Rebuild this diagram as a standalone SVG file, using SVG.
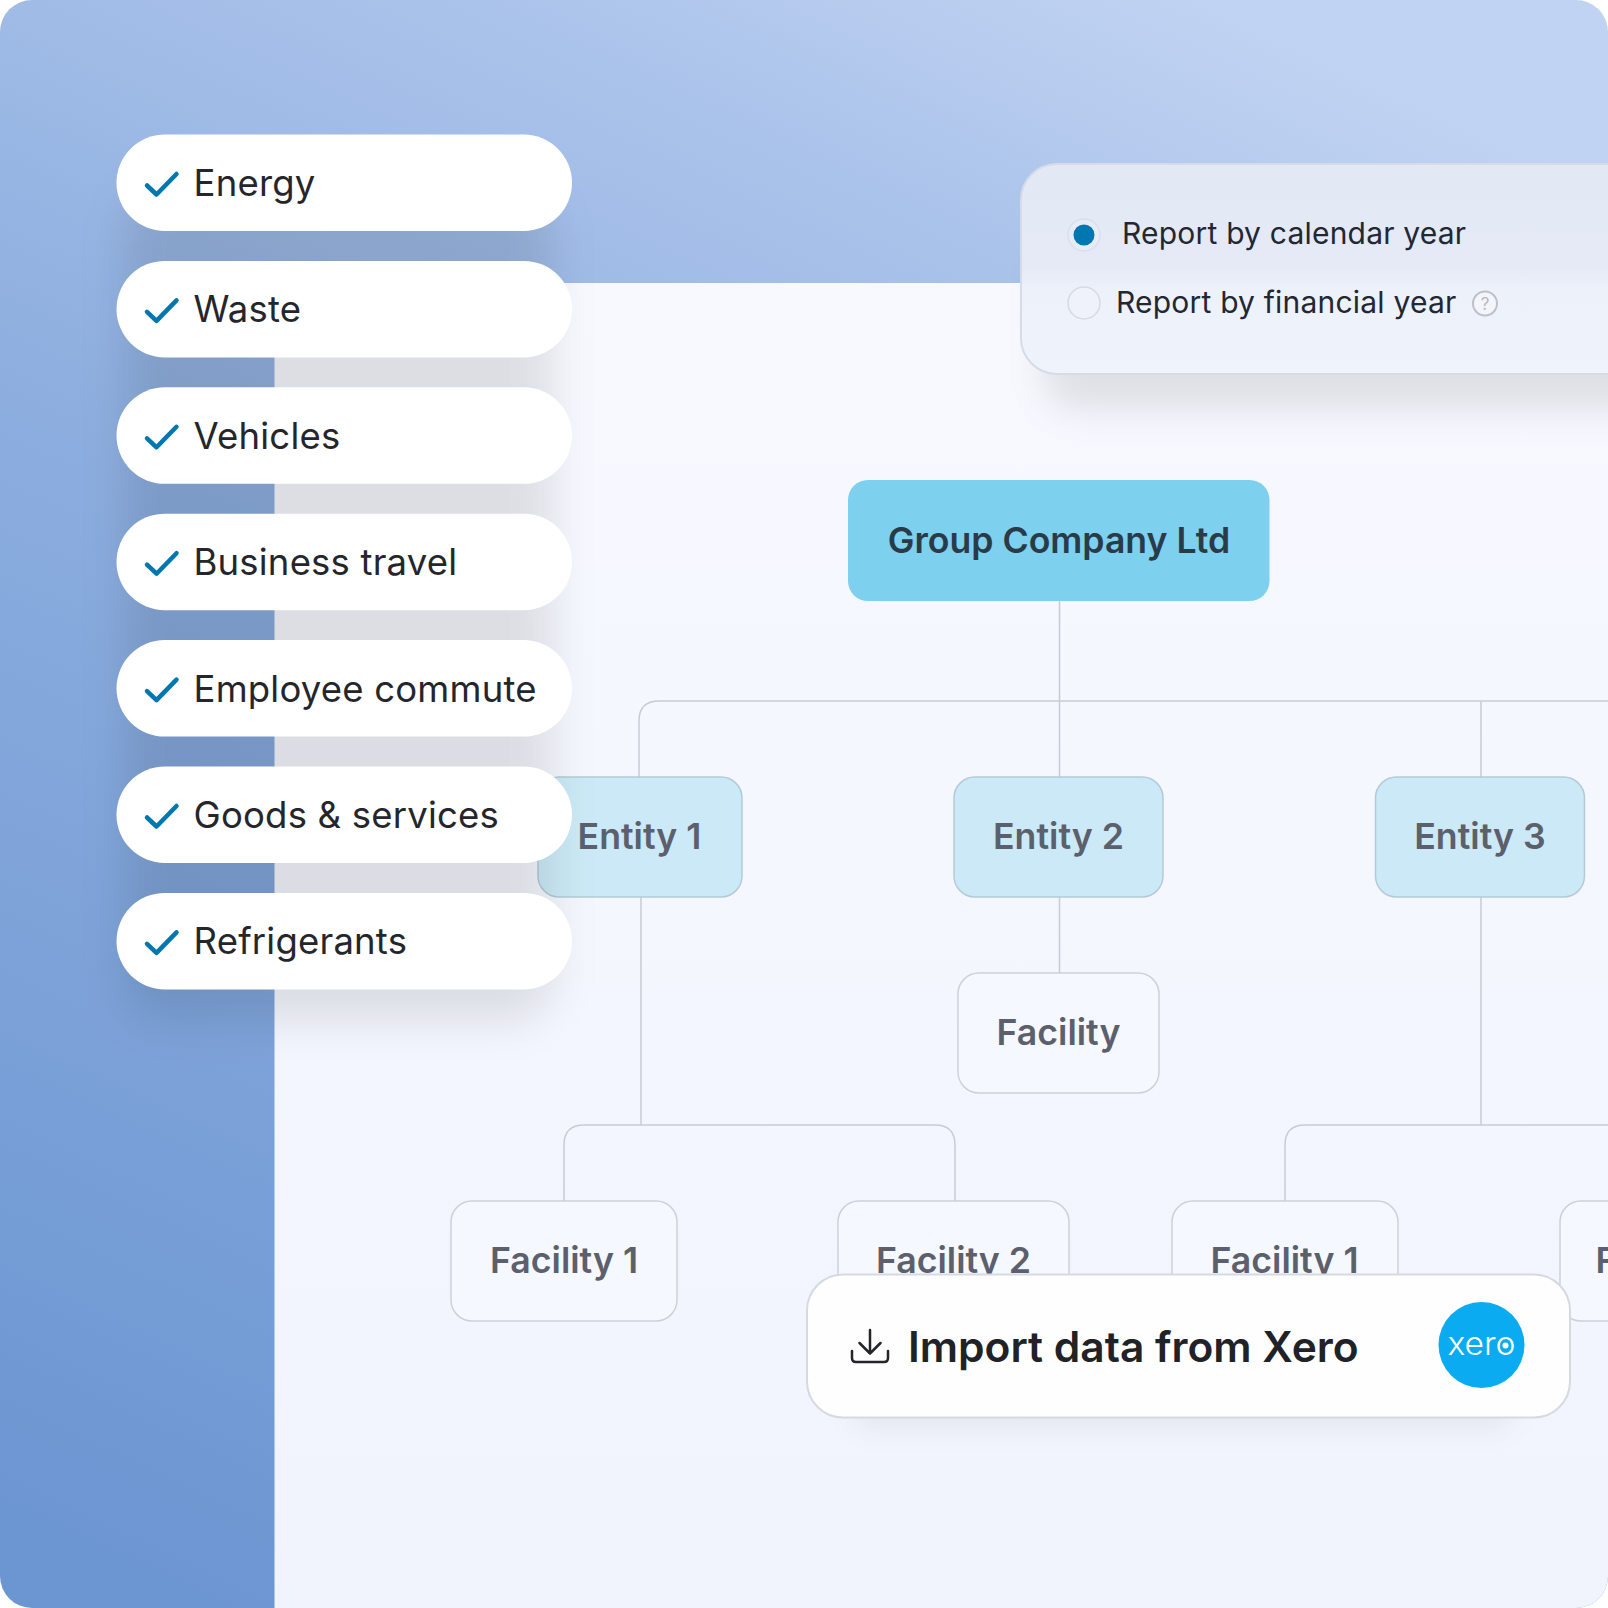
<svg xmlns="http://www.w3.org/2000/svg" width="1608" height="1608" viewBox="0 0 1608 1608">
<defs>
<linearGradient id="bg" gradientUnits="userSpaceOnUse" x1="200" y1="1608" x2="1000" y2="-100">
<stop offset="0" stop-color="#6C96D2"/><stop offset="0.55" stop-color="#8DAEDF"/><stop offset="0.82" stop-color="#A9C2EA"/><stop offset="1" stop-color="#C1D3F2"/>
</linearGradient>
<linearGradient id="panel" x1="0" y1="0" x2="0" y2="1"><stop offset="0" stop-color="#F7F9FF"/><stop offset="1" stop-color="#F1F4FD"/></linearGradient>
<linearGradient id="glass" gradientUnits="userSpaceOnUse" x1="0" y1="163" x2="0" y2="374">
<stop offset="0" stop-color="#E2E8F4"/><stop offset="0.5" stop-color="#E5EAF6"/><stop offset="0.6" stop-color="#EDF1FA"/><stop offset="1" stop-color="#EFF3FC"/>
</linearGradient>
<clipPath id="page"><rect width="1608" height="1608" rx="32"/></clipPath>
<filter id="blurL" filterUnits="userSpaceOnUse" x="0" y="0" width="1800" height="1608"><feGaussianBlur stdDeviation="22"/></filter>
<filter id="blurM" filterUnits="userSpaceOnUse" x="0" y="0" width="1800" height="1608"><feGaussianBlur stdDeviation="18"/></filter>
<filter id="blurS" filterUnits="userSpaceOnUse" x="0" y="0" width="1800" height="1608"><feGaussianBlur stdDeviation="14"/></filter>
<path id="check" d="M147 185.500 L156.500 194.500 L176.500 174" fill="none" stroke="#0077AF" stroke-width="4.500" stroke-linecap="round" stroke-linejoin="round"/>
<rect id="pillShape" x="116.500" y="134.500" width="455.500" height="96.500" rx="48.250"/>
</defs>
<style>
text{font-family:"Inter","Liberation Sans",sans-serif}
.pill use.s{fill:#fff}
.pill text{font-size:36.500px;fill:#25262C;font-weight:400;letter-spacing:.2px}
.box{stroke-width:1.500}
.ent{fill:#CBE9F6;stroke:#B5CAD8}
.fac{fill:#F6F8FF;stroke:#CDD1DB}
.lbl{font-size:35.700px;font-weight:600;fill:#5B606C;text-anchor:middle}
.conn{fill:none;stroke:#C7CBD3;stroke-width:1.500}
.rep{font-size:30px;fill:#222733;letter-spacing:.2px}
</style>
<g clip-path="url(#page)">
<rect id="backdrop" width="1608" height="1608" fill="url(#bg)"/>
<rect id="panel-bg" x="274.500" y="283" width="1334" height="1326" fill="url(#panel)"/>
<g id="connectors" class="conn">
<path d="M1059.500 601V777"/>
<path d="M1608 701H659Q639 701 639 721V777"/>
<path d="M1481 701V777"/>
<path d="M641 897V1125"/>
<path d="M955 1201V1145Q955 1125 935 1125H584Q564 1125 564 1145V1201"/>
<path d="M1059.500 897V973"/>
<path d="M1481 897V1125"/>
<path d="M1608 1125H1305Q1285 1125 1285 1145V1201"/>
</g>
<g id="group-company"><rect x="848" y="480" width="421.500" height="121" rx="20" fill="#7DD0EE"/><text x="1059" y="553" text-anchor="middle" font-size="35.600" font-weight="600" fill="#2A3B48">Group Company Ltd</text></g>
<g id="entity-1"><rect class="box ent" x="538" y="777" width="204" height="120" rx="21"/><text class="lbl" x="639.500" y="849">Entity 1</text></g>
<g id="entity-2"><rect class="box ent" x="954" y="777" width="209" height="120" rx="21"/><text class="lbl" x="1058.500" y="849">Entity 2</text></g>
<g id="entity-3"><rect class="box ent" x="1375.500" y="777" width="209" height="120" rx="21"/><text class="lbl" x="1480" y="849">Entity 3</text></g>
<g id="facility"><rect class="box fac" x="958" y="973" width="201" height="120" rx="21"/><text class="lbl" x="1058.500" y="1045">Facility</text></g>
<g id="facility-1a"><rect class="box fac" x="451" y="1201" width="226" height="120" rx="21"/><text class="lbl" x="564" y="1273">Facility 1</text></g>
<g id="facility-2a"><rect class="box fac" x="838" y="1201" width="231" height="120" rx="21"/><text class="lbl" x="953.500" y="1273">Facility 2</text></g>
<g id="facility-1b"><rect class="box fac" x="1172" y="1201" width="226" height="120" rx="21"/><text class="lbl" x="1284.500" y="1273">Facility 1</text></g>
<g id="facility-2b"><rect class="box fac" x="1560" y="1201" width="226" height="120" rx="21"/><text class="lbl" x="1673" y="1273">Facility 2</text></g>
<g id="pill-shadows" fill="#1c1c1c" fill-opacity="0.105" filter="url(#blurL)">
<rect x="124" y="190" width="428" height="830" rx="40"/>
</g>
<g id="pill-energy" class="pill"><use href="#pillShape" class="s"/><use href="#check"/><text x="193.500" y="196">Energy</text></g>
<g id="pill-waste" class="pill" transform="translate(0 126.400)"><use href="#pillShape" class="s"/><use href="#check"/><text x="193.500" y="196">Waste</text></g>
<g id="pill-vehicles" class="pill" transform="translate(0 252.800)"><use href="#pillShape" class="s"/><use href="#check"/><text x="193.500" y="196">Vehicles</text></g>
<g id="pill-travel" class="pill" transform="translate(0 379.200)"><use href="#pillShape" class="s"/><use href="#check"/><text x="193.500" y="196">Business travel</text></g>
<g id="pill-commute" class="pill" transform="translate(0 505.600)"><use href="#pillShape" class="s"/><use href="#check"/><text x="193.500" y="196">Employee commute</text></g>
<g id="pill-goods" class="pill" transform="translate(0 632)"><use href="#pillShape" class="s"/><use href="#check"/><text x="193.500" y="196">Goods &amp; services</text></g>
<g id="pill-refrigerants" class="pill" transform="translate(0 758.400)"><use href="#pillShape" class="s"/><use href="#check"/><text x="193.500" y="196">Refrigerants</text></g>
<g id="report-card">
<rect x="1045" y="250" width="640" height="158" rx="30" fill="#1c1c1c" fill-opacity="0.10" filter="url(#blurM)"/>
<rect x="1021" y="164" width="640" height="210" rx="36" fill="url(#glass)" stroke="#D6DBE8" stroke-width="2"/>
<circle cx="1084" cy="235" r="16" fill="#E8ECF6" stroke="#DADFEC" stroke-width="1.500"/>
<circle cx="1084" cy="235" r="10.500" fill="#0077B0"/>
<text class="rep" x="1122" y="244">Report by calendar year</text>
<circle cx="1084" cy="303" r="16" fill="#F0F2FB" stroke="#D8DAE3" stroke-width="1.500"/>
<text class="rep" x="1116" y="312.800">Report by financial year</text>
<circle cx="1485" cy="303.500" r="12" fill="#F4F5FB" stroke="#BDC0C9" stroke-width="2"/>
<text x="1485" y="310" text-anchor="middle" font-size="17" fill="#B5B8C2">?</text>
</g>
<g id="import-card">
<rect x="850" y="1330" width="665" height="98" rx="24" fill="#1c1c1c" fill-opacity="0.06" filter="url(#blurS)"/>
<rect x="807" y="1274.500" width="763" height="143" rx="36" fill="#FEFEFF" stroke="#D5D9E3" stroke-width="2"/>
<path d="M870 1330V1353M859.500 1343L870 1353.500L880.500 1343M852 1351V1358Q852 1362 856 1362H884Q888 1362 888 1358V1351" fill="none" stroke="#24252B" stroke-width="2.500" stroke-linecap="round" stroke-linejoin="round"/>
<text x="908" y="1362" font-size="42.500" font-weight="600" fill="#212228">Import data from Xero</text>
<circle cx="1481.500" cy="1345" r="43" fill="#0AABF1"/>
<text x="1481.500" y="1354.500" text-anchor="middle" font-size="33" font-weight="300" fill="#fff" textLength="68" lengthAdjust="spacingAndGlyphs">xero</text>
<circle cx="1505.500" cy="1345.500" r="3" fill="#fff"/>
</g>
</g>
</svg>
